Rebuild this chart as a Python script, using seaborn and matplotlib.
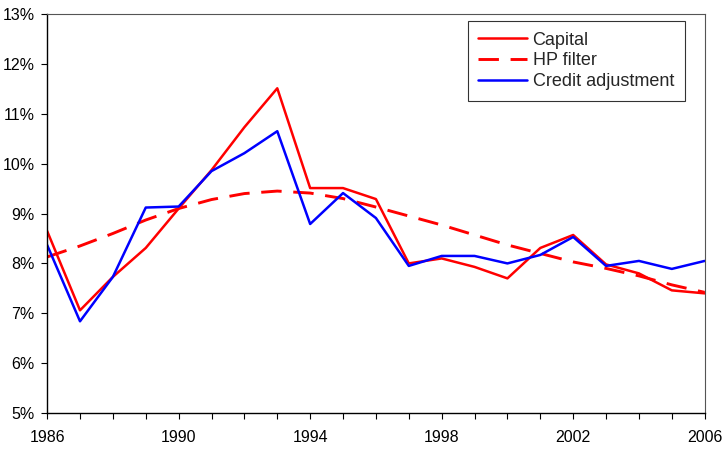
import seaborn as sns
import matplotlib.pyplot as plt
import matplotlib.ticker as mticker
import pandas as pd

# data (percent)
years = list(range(1986, 2007))
capital = [8.65, 7.06, 7.73, 8.31, 9.10, 9.87, 10.73, 11.51, 9.51, 9.51, 9.29,
           8.00, 8.10, 7.93, 7.70, 8.31, 8.57, 7.98, 7.80, 7.46, 7.40]
hp_filter = [8.13, 8.35, 8.60, 8.87, 9.10, 9.28, 9.40, 9.45, 9.41, 9.30, 9.13,
             8.95, 8.77, 8.57, 8.37, 8.20, 8.03, 7.90, 7.75, 7.57, 7.42]
credit_adj = [8.37, 6.84, 7.73, 9.12, 9.14, 9.85, 10.21, 10.65, 8.79, 9.41, 8.91,
              7.95, 8.15, 8.15, 8.00, 8.17, 8.53, 7.95, 8.05, 7.89, 8.05]

df = pd.DataFrame({"Year": years, "Capital": capital,
                   "HP filter": hp_filter, "Credit adjustment": credit_adj})

sns.set_style("white")
plt.rcParams["font.family"] = ["Liberation Sans", "DejaVu Sans"]

fig = plt.figure(figsize=(7.25, 4.5), dpi=100)
ax = fig.add_axes([0.065, 0.082, 0.907, 0.887])

sns.lineplot(data=df, x="Year", y="Capital", ax=ax, color="#ff0000",
             lw=1.8, label="Capital")
sns.lineplot(data=df, x="Year", y="HP filter", ax=ax, color="#ff0000",
             lw=2.1, label="HP filter")
ax.lines[-1].set_dashes((7, 4))
sns.lineplot(data=df, x="Year", y="Credit adjustment", ax=ax, color="#0000ff",
             lw=1.8, label="Credit adjustment")

ax.set_xlim(1986, 2006)
ax.set_ylim(5, 13)
ax.set_xlabel("")
ax.set_ylabel("")
ax.xaxis.set_major_locator(mticker.FixedLocator([1986, 1990, 1994, 1998, 2002, 2006]))
ax.xaxis.set_minor_locator(mticker.MultipleLocator(1))
ax.yaxis.set_major_locator(mticker.MultipleLocator(1))
ax.yaxis.set_major_formatter(mticker.FuncFormatter(lambda v, p: f"{v:.0f}%"))
ax.tick_params(axis="both", which="both", direction="out", length=4, width=0.8,
               labelsize=11.5, colors="black", bottom=True, left=True)
ax.tick_params(axis="x", pad=8)
ax.tick_params(axis="y", pad=5)

for side in ["left", "bottom"]:
    ax.spines[side].set_color("black")
    ax.spines[side].set_linewidth(1.0)
for side in ["top", "right"]:
    ax.spines[side].set_color("#555555")
    ax.spines[side].set_linewidth(0.8)

leg = ax.legend(loc="upper right", bbox_to_anchor=(0.9696, 0.9825), fontsize=13,
                frameon=True, fancybox=False, edgecolor="black",
                handlelength=2.7, handletextpad=0.3, borderpad=0.6,
                labelspacing=0.2, borderaxespad=0)
leg.get_frame().set_linewidth(0.8)

fig.savefig("out.png", dpi=100)
plt.close(fig)
